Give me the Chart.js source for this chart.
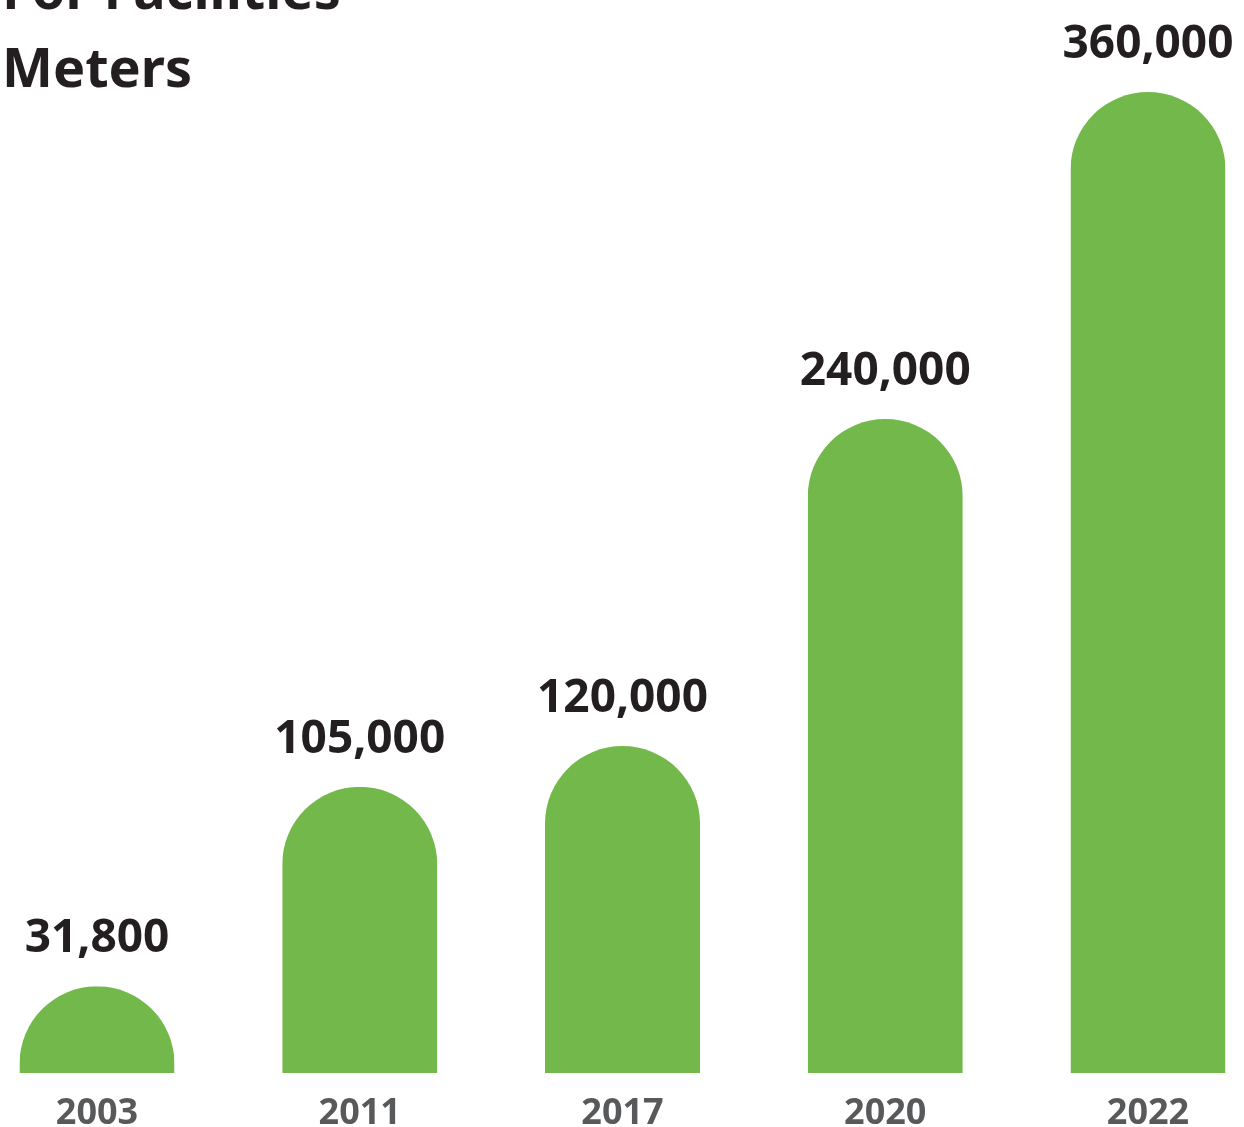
<!DOCTYPE html>
<html>
<head>
<meta charset="utf-8">
<script src="https://cdn.jsdelivr.net/npm/chart.js@4.4.1/dist/chart.umd.min.js"></script>
<style>
  html, body { margin: 0; padding: 0; background: #fff; overflow: hidden; }
  #wrap { position: relative; width: 1244px; height: 1127px; }
  #title {
    position: absolute; left: 2px; top: -51px; margin: 0;
    font-family: 'Noto Sans', sans-serif; font-weight: 700; font-size: 54px;
    line-height: 78px; color: #231f20; z-index: 2;
  }
</style>
</head>
<body>
<div id="wrap">
  <h1 id="title">For Facilities<br>Meters</h1>
  <canvas id="chart" width="1244" height="1127"></canvas>
</div>
<script>
// data
const years = ['2003', '2011', '2017', '2020', '2022'];
const areas = [31800, 105000, 120000, 240000, 360000];

const GREEN = '#73b84a';

// ── dome-topped bars (Chart.js clamps radius to half height, so draw them here) ──
const domeBars = {
  id: 'domeBars',
  beforeDatasetDraw(chart, args) {
    const ctx = chart.ctx;
    args.meta.data.forEach(bar => {
      const { x, y, base, width } = bar.getProps(['x', 'y', 'base', 'width'], true);
      const r = width / 2;
      const left = x - r, right = x + r;
      const cy = Math.min(y + r, base);
      ctx.save();
      ctx.beginPath();
      ctx.rect(left, y, width, base - y);
      ctx.clip();
      ctx.beginPath();
      ctx.moveTo(left, base);
      ctx.lineTo(left, cy);
      ctx.arc(x, cy, r, Math.PI, 0);
      ctx.lineTo(right, base);
      ctx.closePath();
      ctx.fillStyle = GREEN;
      ctx.fill();
      ctx.restore();
    });
    return false;
  }
};

// ── value labels above each bar ─────────────────────
const valueLabels = {
  id: 'valueLabels',
  afterDatasetsDraw(chart) {
    const ctx = chart.ctx;
    const meta = chart.getDatasetMeta(0);
    ctx.save();
    ctx.font = '700 46px "Noto Sans", sans-serif';
    ctx.fillStyle = '#231f20';
    ctx.textAlign = 'center';
    ctx.textBaseline = 'alphabetic';
    meta.data.forEach((bar, i) => {
      ctx.fillText(areas[i].toLocaleString('en-US'), bar.x, bar.y - 34);
    });
    ctx.restore();
  }
};

new Chart(document.getElementById('chart'), {
  type: 'bar',
  data: {
    labels: years,
    datasets: [{
      data: areas,
      backgroundColor: GREEN,
      barThickness: 155,
      clip: false
    }]
  },
  options: {
    responsive: false,
    animation: false,
    layout: { padding: { top: 92, left: 97, right: 96, bottom: -28 } },
    plugins: { legend: { display: false }, tooltip: { enabled: false } },
    scales: {
      x: {
        offset: false,
        grid: { display: false, drawTicks: false },
        border: { display: false },
        ticks: {
          color: '#58595b',
          padding: 23,
          font: { family: 'Noto Sans', size: 36, weight: '700', lineHeight: 1.0 }
        }
      },
      y: {
        display: false,
        min: 0,
        max: 360000
      }
    }
  },
  plugins: [domeBars, valueLabels]
});
</script>
</body>
</html>
